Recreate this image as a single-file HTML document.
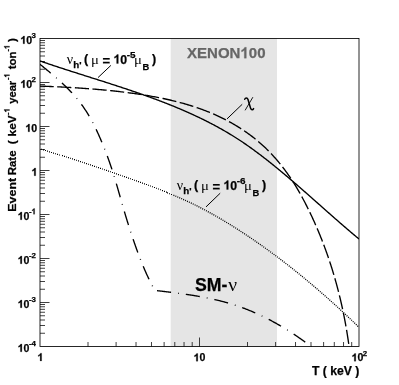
<!DOCTYPE html>
<html><head><meta charset="utf-8"><title>plot</title>
<style>html,body{margin:0;padding:0;background:#fff;}svg{display:block;filter:grayscale(1);}</style>
</head><body>
<svg width="399" height="385" viewBox="0 0 399 385">
<rect x="0" y="0" width="399" height="385" fill="#fff"/>
<rect x="170.7" y="38.5" width="106.3" height="308.0" fill="#e5e5e5"/>
<path d="M40.0,333.25h5 M40.0,325.51h5 M40.0,320.01h5 M40.0,315.75h5 M40.0,312.26h5 M40.0,309.32h5 M40.0,306.76h5 M40.0,304.51h5 M40.0,302.50h9.5 M40.0,289.25h5 M40.0,281.51h5 M40.0,276.01h5 M40.0,271.75h5 M40.0,268.26h5 M40.0,265.32h5 M40.0,262.76h5 M40.0,260.51h5 M40.0,258.50h9.5 M40.0,245.25h5 M40.0,237.51h5 M40.0,232.01h5 M40.0,227.75h5 M40.0,224.26h5 M40.0,221.32h5 M40.0,218.76h5 M40.0,216.51h5 M40.0,214.50h9.5 M40.0,201.25h5 M40.0,193.51h5 M40.0,188.01h5 M40.0,183.75h5 M40.0,180.26h5 M40.0,177.32h5 M40.0,174.76h5 M40.0,172.51h5 M40.0,170.50h9.5 M40.0,157.25h5 M40.0,149.51h5 M40.0,144.01h5 M40.0,139.75h5 M40.0,136.26h5 M40.0,133.32h5 M40.0,130.76h5 M40.0,128.51h5 M40.0,126.50h9.5 M40.0,113.25h5 M40.0,105.51h5 M40.0,100.01h5 M40.0,95.75h5 M40.0,92.26h5 M40.0,89.32h5 M40.0,86.76h5 M40.0,84.51h5 M40.0,82.50h9.5 M40.0,69.25h5 M40.0,61.51h5 M40.0,56.01h5 M40.0,51.75h5 M40.0,48.26h5 M40.0,45.32h5 M40.0,42.76h5 M40.0,40.51h5 M88.01,346.5v-4.5 M116.10,346.5v-4.5 M136.03,346.5v-4.5 M151.49,346.5v-4.5 M164.12,346.5v-4.5 M174.79,346.5v-4.5 M184.04,346.5v-4.5 M192.20,346.5v-4.5 M199.50,346.5v-9 M247.51,346.5v-4.5 M275.60,346.5v-4.5 M295.53,346.5v-4.5 M310.99,346.5v-4.5 M323.62,346.5v-4.5 M334.29,346.5v-4.5 M343.54,346.5v-4.5 M351.70,346.5v-4.5" stroke="#000" stroke-width="0.75" fill="none"/>
<rect x="40.0" y="38.5" width="319.0" height="308.0" fill="none" stroke="#000" stroke-width="0.85"/>
<clipPath id="c"><rect x="40.0" y="38.5" width="319.0" height="308.0"/></clipPath>
<g clip-path="url(#c)" fill="none" stroke="#000">
<path d="M39.56,60.80 L40.42,61.10 L41.30,61.40 L42.17,61.70 L43.04,62.00 L43.91,62.30 L44.78,62.59 L45.65,62.89 L46.53,63.19 L47.40,63.48 L48.28,63.78 L49.15,64.07 L50.03,64.37 L50.90,64.66 L51.78,64.95 L52.66,65.25 L53.53,65.54 L54.41,65.83 L55.29,66.12 L56.17,66.41 L57.05,66.70 L57.93,66.99 L58.81,67.28 L59.69,67.56 L60.57,67.85 L61.45,68.14 L62.33,68.43 L63.21,68.71 L64.09,69.00 L64.98,69.29 L65.86,69.57 L66.74,69.86 L67.63,70.14 L68.51,70.43 L69.39,70.71 L70.28,70.99 L71.16,71.28 L72.05,71.56 L72.93,71.85 L73.82,72.13 L74.71,72.41 L75.59,72.69 L76.48,72.98 L77.36,73.26 L78.25,73.54 L79.14,73.82 L80.03,74.11 L80.91,74.39 L81.80,74.67 L82.69,74.95 L83.58,75.23 L84.46,75.52 L85.35,75.80 L86.24,76.08 L87.13,76.36 L88.02,76.64 L88.91,76.92 L89.80,77.21 L90.68,77.49 L91.57,77.77 L92.46,78.05 L93.35,78.33 L94.24,78.62 L95.13,78.90 L96.02,79.18 L96.91,79.46 L97.80,79.75 L98.69,80.03 L99.58,80.31 L100.47,80.59 L101.36,80.88 L102.25,81.16 L103.14,81.45 L104.03,81.73 L104.92,82.01 L105.80,82.30 L106.69,82.58 L107.58,82.87 L108.47,83.16 L109.36,83.44 L110.25,83.73 L111.14,84.02 L112.03,84.30 L112.92,84.59 L113.81,84.88 L114.69,85.17 L115.58,85.46 L116.47,85.75 L117.36,86.04 L118.25,86.33 L119.13,86.62 L120.02,86.91 L120.91,87.20 L121.80,87.49 L122.68,87.79 L123.57,88.08 L124.46,88.38 L125.34,88.67 L126.23,88.97 L127.12,89.26 L128.00,89.56 L128.89,89.86 L129.77,90.15 L130.66,90.45 L131.54,90.75 L132.43,91.05 L133.31,91.35 L134.19,91.66 L135.08,91.96 L135.96,92.26 L136.84,92.57 L137.72,92.87 L138.61,93.18 L139.49,93.48 L140.37,93.79 L141.25,94.10 L142.13,94.41 L143.01,94.72 L143.89,95.03 L144.77,95.34 L145.65,95.65 L146.52,95.97 L147.40,96.28 L148.28,96.60 L149.16,96.92 L150.03,97.23 L150.91,97.55 L151.78,97.87 L152.66,98.19 L153.53,98.51 L154.41,98.84 L155.28,99.16 L156.15,99.49 L157.03,99.81 L157.90,100.14 L158.77,100.47 L159.64,100.80 L160.51,101.13 L161.38,101.46 L162.25,101.79 L163.12,102.13 L163.99,102.46 L164.85,102.80 L165.72,103.14 L166.59,103.48 L167.45,103.82 L168.32,104.16 L169.18,104.50 L170.04,104.85 L170.91,105.20 L171.77,105.54 L172.63,105.89 L173.49,106.24 L174.35,106.59 L175.21,106.95 L176.07,107.30 L176.93,107.66 L177.78,108.01 L178.64,108.37 L179.49,108.73 L180.35,109.09 L181.20,109.46 L182.06,109.82 L182.91,110.19 L183.76,110.56 L184.61,110.93 L185.46,111.30 L186.31,111.67 L187.16,112.04 L188.01,112.42 L188.85,112.80 L189.70,113.18 L190.54,113.56 L191.39,113.94 L192.23,114.32 L193.07,114.71 L193.91,115.10 L194.75,115.49 L195.59,115.88 L196.43,116.27 L197.27,116.66 L198.11,117.06 L198.94,117.46 L199.78,117.86 L200.61,118.26 L201.44,118.66 L202.27,119.07 L203.11,119.48 L203.94,119.89 L204.76,120.30 L205.59,120.71 L206.42,121.13 L207.24,121.54 L208.07,121.96 L208.89,122.38 L209.72,122.81 L210.54,123.23 L211.36,123.66 L212.18,124.09 L213.00,124.52 L213.81,124.95 L214.63,125.39 L215.44,125.83 L216.26,126.27 L217.07,126.71 L217.88,127.15 L218.69,127.60 L219.50,128.04 L220.31,128.49 L221.12,128.95 L221.92,129.40 L222.73,129.86 L223.53,130.32 L224.33,130.78 L225.13,131.24 L225.93,131.71 L226.73,132.18 L227.53,132.65 L228.32,133.12 L229.12,133.60 L229.91,134.07 L230.70,134.55 L231.49,135.03 L232.28,135.52 L233.07,136.01 L233.86,136.50 L234.64,136.99 L235.43,137.48 L236.21,137.98 L236.99,138.48 L237.77,138.98 L238.55,139.48 L239.33,139.99 L240.10,140.50 L240.88,141.01 L241.65,141.53 L242.42,142.04 L243.19,142.56 L243.96,143.08 L244.73,143.61 L245.49,144.13 L246.26,144.66 L247.02,145.19 L247.79,145.73 L248.55,146.26 L249.31,146.80 L250.07,147.34 L250.82,147.88 L251.58,148.42 L252.34,148.97 L253.09,149.51 L253.84,150.06 L254.60,150.61 L255.35,151.17 L256.10,151.72 L256.85,152.28 L257.59,152.84 L258.34,153.40 L259.09,153.96 L259.83,154.52 L260.57,155.08 L261.32,155.65 L262.06,156.22 L262.80,156.79 L263.54,157.36 L264.28,157.93 L265.02,158.50 L265.75,159.08 L266.49,159.65 L267.22,160.23 L267.96,160.81 L268.69,161.39 L269.42,161.97 L270.16,162.55 L270.89,163.14 L271.62,163.72 L272.35,164.31 L273.07,164.89 L273.80,165.48 L274.53,166.07 L275.25,166.66 L275.98,167.25 L276.70,167.84 L277.43,168.43 L278.15,169.03 L278.87,169.62 L279.60,170.22 L280.32,170.81 L281.04,171.41 L281.76,172.01 L282.48,172.61 L283.19,173.21 L283.91,173.81 L284.63,174.41 L285.35,175.01 L286.06,175.62 L286.78,176.22 L287.49,176.82 L288.21,177.43 L288.92,178.04 L289.63,178.64 L290.34,179.25 L291.06,179.86 L291.77,180.47 L292.48,181.07 L293.19,181.68 L293.90,182.29 L294.61,182.91 L295.32,183.52 L296.02,184.13 L296.73,184.74 L297.44,185.35 L298.14,185.97 L298.85,186.58 L299.56,187.19 L300.26,187.81 L300.97,188.42 L301.67,189.04 L302.38,189.66 L303.08,190.27 L303.78,190.89 L304.49,191.50 L305.19,192.12 L305.89,192.74 L306.59,193.36 L307.30,193.97 L308.00,194.59 L308.70,195.21 L309.40,195.83 L310.10,196.44 L310.80,197.06 L311.50,197.68 L312.20,198.30 L312.90,198.92 L313.60,199.54 L314.30,200.16 L315.00,200.77 L315.70,201.39 L316.39,202.01 L317.09,202.63 L317.79,203.25 L318.49,203.87 L319.19,204.49 L319.88,205.10 L320.58,205.72 L321.28,206.34 L321.97,206.96 L322.67,207.58 L323.37,208.19 L324.07,208.81 L324.76,209.43 L325.46,210.04 L326.16,210.66 L326.85,211.28 L327.55,211.89 L328.24,212.51 L328.94,213.12 L329.64,213.74 L330.33,214.35 L331.03,214.97 L331.73,215.58 L332.42,216.19 L333.12,216.81 L333.82,217.42 L334.51,218.03 L335.21,218.64 L335.91,219.25 L336.60,219.86 L337.30,220.47 L338.00,221.08 L338.69,221.69 L339.39,222.30 L340.09,222.90 L340.79,223.51 L341.48,224.12 L342.18,224.72 L342.88,225.32 L343.58,225.93 L344.28,226.53 L344.98,227.13 L345.67,227.73 L346.37,228.33 L347.07,228.93 L347.77,229.53 L348.47,230.13 L349.17,230.73 L349.87,231.32 L350.57,231.92 L351.27,232.51 L351.98,233.11 L352.68,233.70 L353.38,234.29 L354.08,234.88 L354.78,235.47 L355.49,236.06 L356.19,236.65 L356.89,237.23 L357.60,237.82 L358.30,238.40 L359.01,238.98" stroke-width="1.35"/>
<path d="M38.30,85.97 L39.45,86.02 L40.61,86.06 L41.76,86.11 L42.92,86.16 L44.07,86.21 L45.22,86.25 L46.38,86.30 L47.53,86.35 L48.69,86.40 L49.84,86.46 L50.99,86.51 L52.14,86.56 L53.30,86.61 L54.45,86.67 L55.60,86.72 L56.76,86.77 L57.91,86.83 L59.06,86.89 L60.21,86.94 L61.36,87.00 L62.52,87.06 L63.67,87.12 L64.82,87.18 L65.97,87.25 L67.12,87.31 L68.27,87.37 L69.42,87.44 L70.57,87.50 L71.72,87.57 L72.87,87.64 L74.02,87.71 L75.17,87.78 L76.32,87.85 L77.47,87.92 L78.62,88.00 L79.77,88.07 L80.92,88.15 L82.07,88.22 L83.22,88.30 L84.37,88.38 L85.52,88.46 L86.67,88.55 L87.81,88.63 L88.96,88.72 L90.11,88.81 L91.26,88.89 L92.40,88.98 L93.55,89.08 L94.70,89.17 L95.85,89.26 L96.99,89.36 L98.14,89.46 L99.29,89.56 L100.43,89.66 L101.58,89.76 L102.72,89.87 L103.87,89.97 L105.02,90.08 L106.16,90.19 L107.31,90.30 L108.45,90.42 L109.60,90.53 L110.74,90.65 L111.89,90.77 L113.03,90.89 L114.17,91.01 L115.32,91.14 L116.46,91.27 L117.61,91.40 L118.75,91.53 L119.89,91.66 L121.04,91.80 L122.18,91.93 L123.32,92.07 L124.47,92.21 L125.61,92.36 L126.75,92.50 L127.89,92.65 L129.03,92.80 L130.18,92.96 L131.32,93.11 L132.46,93.27 L133.60,93.43 L134.74,93.59 L135.88,93.76 L137.02,93.92 L138.16,94.09 L139.31,94.27 L140.45,94.44 L141.59,94.62 L142.73,94.80 L143.87,94.98 L145.00,95.17 L146.14,95.35 L147.28,95.54 L148.42,95.74 L149.56,95.93 L150.70,96.13 L151.84,96.33 L152.97,96.54 L154.11,96.75 L155.25,96.96 L156.38,97.17 L157.52,97.39 L158.65,97.61 L159.79,97.84 L160.92,98.07 L162.05,98.30 L163.18,98.53 L164.31,98.77 L165.45,99.01 L166.57,99.26 L167.70,99.51 L168.83,99.76 L169.96,100.02 L171.08,100.28 L172.21,100.55 L173.33,100.82 L174.46,101.09 L175.58,101.37 L176.70,101.66 L177.82,101.94 L178.94,102.23 L180.05,102.53 L181.17,102.83 L182.28,103.14 L183.40,103.45 L184.51,103.76 L185.62,104.08 L186.73,104.40 L187.83,104.73 L188.94,105.07 L190.04,105.41 L191.15,105.75 L192.25,106.10 L193.35,106.45 L194.45,106.81 L195.54,107.18 L196.64,107.55 L197.73,107.92 L198.82,108.31 L199.91,108.69 L201.00,109.08 L202.09,109.48 L203.17,109.89 L204.25,110.29 L205.33,110.71 L206.41,111.13 L207.48,111.56 L208.56,111.99 L209.63,112.43 L210.70,112.87 L211.76,113.32 L212.83,113.77 L213.89,114.23 L214.94,114.70 L216.00,115.17 L217.05,115.65 L218.10,116.13 L219.15,116.62 L220.19,117.12 L221.23,117.62 L222.27,118.13 L223.31,118.64 L224.34,119.16 L225.37,119.69 L226.39,120.22 L227.41,120.75 L228.43,121.30 L229.45,121.85 L230.46,122.40 L231.46,122.96 L232.47,123.53 L233.47,124.10 L234.46,124.68 L235.46,125.27 L236.44,125.86 L237.43,126.45 L238.41,127.06 L239.38,127.67 L240.36,128.28 L241.32,128.91 L242.29,129.53 L243.25,130.17 L244.20,130.81 L245.15,131.46 L246.10,132.11 L247.04,132.77 L247.97,133.43 L248.91,134.11 L249.83,134.78 L250.75,135.47 L251.67,136.16 L252.58,136.86 L253.49,137.56 L254.39,138.27 L255.29,138.99 L256.18,139.71 L257.06,140.44 L257.95,141.17 L258.82,141.92 L259.69,142.66 L260.55,143.42 L261.41,144.18 L262.27,144.95 L263.11,145.72 L263.95,146.50 L264.79,147.29 L265.62,148.08 L266.45,148.88 L267.27,149.68 L268.08,150.49 L268.89,151.31 L269.69,152.13 L270.49,152.96 L271.28,153.79 L272.07,154.63 L272.85,155.48 L273.62,156.33 L274.39,157.18 L275.16,158.04 L275.92,158.91 L276.67,159.78 L277.42,160.65 L278.16,161.54 L278.90,162.42 L279.63,163.31 L280.36,164.21 L281.08,165.11 L281.79,166.01 L282.50,166.92 L283.21,167.83 L283.91,168.75 L284.60,169.67 L285.29,170.60 L285.98,171.53 L286.65,172.46 L287.33,173.40 L288.00,174.34 L288.66,175.29 L289.31,176.24 L289.97,177.19 L290.61,178.15 L291.25,179.11 L291.89,180.08 L292.52,181.04 L293.15,182.02 L293.77,182.99 L294.38,183.97 L294.99,184.95 L295.60,185.93 L296.20,186.92 L296.79,187.91 L297.39,188.90 L297.97,189.90 L298.55,190.90 L299.13,191.90 L299.70,192.90 L300.27,193.91 L300.84,194.92 L301.40,195.93 L301.96,196.94 L302.51,197.96 L303.06,198.97 L303.60,199.99 L304.14,201.02 L304.68,202.04 L305.21,203.06 L305.74,204.09 L306.27,205.12 L306.79,206.15 L307.31,207.18 L307.83,208.22 L308.34,209.25 L308.85,210.29 L309.35,211.33 L309.86,212.37 L310.36,213.41 L310.85,214.45 L311.35,215.50 L311.84,216.54 L312.32,217.59 L312.81,218.64 L313.29,219.69 L313.77,220.74 L314.24,221.79 L314.71,222.84 L315.18,223.90 L315.64,224.95 L316.11,226.01 L316.57,227.07 L317.02,228.13 L317.47,229.19 L317.92,230.25 L318.37,231.31 L318.81,232.38 L319.25,233.44 L319.69,234.51 L320.13,235.58 L320.56,236.64 L320.99,237.71 L321.41,238.78 L321.84,239.85 L322.25,240.93 L322.67,242.00 L323.08,243.08 L323.50,244.15 L323.90,245.23 L324.31,246.31 L324.71,247.38 L325.11,248.46 L325.50,249.55 L325.90,250.63 L326.29,251.71 L326.67,252.79 L327.06,253.88 L327.44,254.96 L327.82,256.05 L328.19,257.14 L328.56,258.23 L328.93,259.32 L329.30,260.41 L329.66,261.50 L330.02,262.59 L330.38,263.69 L330.74,264.78 L331.09,265.88 L331.44,266.97 L331.78,268.07 L332.13,269.17 L332.47,270.27 L332.81,271.37 L333.14,272.47 L333.47,273.57 L333.80,274.67 L334.13,275.78 L334.45,276.88 L334.77,277.99 L335.09,279.09 L335.40,280.20 L335.71,281.31 L336.02,282.42 L336.33,283.53 L336.63,284.64 L336.93,285.75 L337.23,286.86 L337.53,287.97 L337.82,289.09 L338.11,290.20 L338.40,291.32 L338.68,292.43 L338.96,293.55 L339.24,294.67 L339.51,295.79 L339.79,296.90 L340.06,298.02 L340.33,299.15 L340.59,300.27 L340.85,301.39 L341.11,302.51 L341.37,303.64 L341.62,304.76 L341.87,305.89 L342.12,307.01 L342.36,308.14 L342.61,309.27 L342.85,310.39 L343.08,311.52 L343.32,312.65 L343.55,313.78 L343.78,314.91 L344.01,316.05 L344.23,317.18 L344.45,318.31 L344.67,319.44 L344.89,320.58 L345.10,321.71 L345.31,322.85 L345.52,323.99 L345.72,325.12 L345.92,326.26 L346.12,327.40 L346.32,328.54 L346.52,329.68 L346.71,330.82 L346.90,331.96 L347.08,333.10 L347.27,334.24 L347.45,335.38 L347.63,336.52 L347.80,337.67 L347.98,338.81 L348.15,339.96 L348.32,341.10 L348.48,342.25 L348.65,343.39 L348.81,344.54 L348.97,345.69 L349.12,346.83" stroke-width="1.35" stroke-dasharray="14.14 3.53" stroke-dashoffset="-1.3"/>
<path d="M41,148.71h1v1.15h-1z M43,149.34h1v1.15h-1z M45,149.97h1v1.15h-1z M47,150.61h1v1.15h-1z M49,151.24h1v1.15h-1z M51,151.88h1v1.15h-1z M53,152.52h1v1.15h-1z M55,153.17h1v1.15h-1z M57,153.81h1v1.15h-1z M59,154.46h1v1.15h-1z M62,155.11h1v1.15h-1z M64,155.76h1v1.15h-1z M66,156.41h1v1.15h-1z M68,157.06h1v1.15h-1z M70,157.72h1v1.15h-1z M72,158.37h1v1.15h-1z M74,159.03h1v1.15h-1z M76,159.70h1v1.15h-1z M78,160.36h1v1.15h-1z M80,161.02h1v1.15h-1z M82,161.69h1v1.15h-1z M84,162.36h1v1.15h-1z M86,163.03h1v1.15h-1z M88,163.70h1v1.15h-1z M90,164.37h1v1.15h-1z M92,165.05h1v1.15h-1z M94,165.73h1v1.15h-1z M96,166.41h1v1.15h-1z M98,167.09h1v1.15h-1z M100,167.77h1v1.15h-1z M102,168.45h1v1.15h-1z M104,169.14h1v1.15h-1z M106,169.83h1v1.15h-1z M108,170.52h1v1.15h-1z M110,171.21h1v1.15h-1z M112,171.90h1v1.15h-1z M114,172.60h1v1.15h-1z M116,173.29h1v1.15h-1z M118,173.99h1v1.15h-1z M120,174.69h1v1.15h-1z M122,175.39h1v1.15h-1z M124,176.10h1v1.15h-1z M126,176.80h1v1.15h-1z M128,177.51h1v1.15h-1z M130,178.22h1v1.15h-1z M132,178.93h1v1.15h-1z M134,179.64h1v1.15h-1z M136,180.35h1v1.15h-1z M138,181.07h1v1.15h-1z M140,181.79h1v1.15h-1z M142,182.51h1v1.15h-1z M144,183.24h1v1.15h-1z M146,183.97h1v1.15h-1z M148,184.71h1v1.15h-1z M150,185.45h1v1.15h-1z M152,186.19h1v1.15h-1z M154,186.94h1v1.15h-1z M156,187.70h1v1.15h-1z M158,188.46h1v1.15h-1z M160,189.22h1v1.15h-1z M162,190.00h1v1.15h-1z M164,190.78h1v1.15h-1z M166,191.56h1v1.15h-1z M167,192.36h1v1.15h-1z M169,193.16h1v1.15h-1z M171,193.97h1v1.15h-1z M173.67,194.57L174.59,194.96L174.08,196.16L173.16,195.77z M175.62,195.40L176.54,195.79L176.03,196.98L175.11,196.59z M177.57,196.23L178.49,196.63L177.98,197.82L177.06,197.42z M179.52,197.07L180.44,197.48L179.92,198.67L179.00,198.27z M181.47,197.93L182.38,198.33L181.85,199.52L180.94,199.12z M183.41,198.79L184.32,199.20L183.79,200.39L182.87,199.98z M185.34,199.66L186.25,200.08L185.71,201.26L184.80,200.85z M187.27,200.55L188.18,200.97L187.64,202.15L186.73,201.73z M189.20,201.44L190.11,201.86L189.55,203.04L188.65,202.62z M191.12,202.34L192.03,202.77L191.47,203.95L190.56,203.52z M193.04,203.26L193.94,203.69L193.37,204.86L192.47,204.43z M194.95,204.19L195.85,204.63L195.27,205.79L194.38,205.35z M196.86,205.12L197.75,205.57L197.17,206.73L196.28,206.29z M198.76,206.07L199.65,206.53L199.06,207.69L198.17,207.23z M200.65,207.04L201.54,207.50L200.94,208.65L200.05,208.19z M202.54,208.01L203.42,208.48L202.82,209.63L201.93,209.16z M204.42,209.00L205.30,209.47L204.69,210.62L203.81,210.15z M206.29,210.00L207.17,210.47L206.56,211.62L205.68,211.14z M208.16,211.01L209.04,211.49L208.41,212.63L207.54,212.15z M210.02,212.03L210.90,212.51L210.27,213.65L209.39,213.16z M211.88,213.06L212.75,213.55L212.12,214.68L211.24,214.19z M213.73,214.10L214.60,214.59L213.96,215.72L213.09,215.23z M215.58,215.15L216.44,215.64L215.80,216.77L214.93,216.27z M217.42,216.21L218.28,216.71L217.63,217.83L216.76,217.33z M219.25,217.27L220.11,217.78L219.46,218.90L218.59,218.39z M221.08,218.35L221.94,218.86L221.28,219.98L220.42,219.47z M222.91,219.43L223.76,219.95L223.10,221.06L222.24,220.55z M224.73,220.53L225.58,221.05L224.91,222.16L224.05,221.64z M226.54,221.63L227.39,222.15L226.72,223.26L225.86,222.74z M228.35,222.74L229.20,223.26L228.52,224.37L227.67,223.84z M230.16,223.85L231.01,224.38L230.32,225.48L229.47,224.95z M231.96,224.97L232.81,225.50L232.12,226.60L231.27,226.07z M233.76,226.10L234.60,226.63L233.91,227.73L233.06,227.20z M235.55,227.23L236.40,227.77L235.70,228.87L234.85,228.33z M237.34,228.37L238.18,228.91L237.48,230.01L236.64,229.47z M239.13,229.52L239.97,230.06L239.26,231.15L238.42,230.61z M240.91,230.67L241.75,231.22L241.04,232.31L240.20,231.76z M242.69,231.83L243.52,232.38L242.81,233.47L241.97,232.92z M244.46,233.00L245.30,233.55L244.58,234.63L243.74,234.08z M246.23,234.17L247.06,234.72L246.34,235.80L245.51,235.25z M248.00,235.34L248.83,235.90L248.10,236.98L247.27,236.42z M249.76,236.53L250.59,237.09L249.86,238.17L249.03,237.61z M251.52,237.72L252.34,238.28L251.61,239.35L250.79,238.79z M253.27,238.91L254.10,239.48L253.36,240.55L252.54,239.98z M255.02,240.11L255.84,240.68L255.10,241.75L254.28,241.18z M256.77,241.32L257.59,241.89L256.85,242.96L256.02,242.39z M258.51,242.53L259.33,243.10L258.58,244.17L257.76,243.60z M260.25,243.75L261.06,244.32L260.31,245.39L259.50,244.81z M261.98,244.97L262.80,245.55L262.04,246.61L261.23,246.03z M263.71,246.20L264.52,246.78L263.77,247.84L262.96,247.26z M265.44,247.43L266.25,248.02L265.49,249.07L264.68,248.49z M267.16,248.67L267.97,249.26L267.21,250.31L266.40,249.73z M268.88,249.92L269.69,250.51L268.92,251.56L268.11,250.97z M270.59,251.17L271.40,251.76L270.63,252.81L269.82,252.22z M272.30,252.42L273.11,253.02L272.34,254.06L271.53,253.47z M274.01,253.68L274.81,254.28L274.04,255.32L273.24,254.73z M275.71,254.95L276.52,255.55L275.74,256.59L274.94,255.99z M277.41,256.22L278.21,256.82L277.43,257.86L276.63,257.26z M279.11,257.49L279.91,258.10L279.12,259.13L278.33,258.53z M280.80,258.77L281.60,259.38L280.81,260.41L280.01,259.81z M282.49,260.06L283.28,260.67L282.49,261.70L281.70,261.09z M284.17,261.35L284.97,261.96L284.17,262.99L283.38,262.38z M285.86,262.65L286.65,263.26L285.85,264.29L285.06,263.67z M287.53,263.95L288.32,264.56L287.52,265.59L286.73,264.97z M289.21,265.25L289.99,265.87L289.19,266.89L288.40,266.27z M290.87,266.56L291.66,267.18L290.86,268.20L290.07,267.58z M292.54,267.87L293.32,268.50L292.52,269.51L291.73,268.89z M294.20,269.19L294.98,269.82L294.17,270.83L293.39,270.21z M295.86,270.52L296.64,271.14L295.83,272.16L295.05,271.53z M297.52,271.85L298.29,272.47L297.48,273.48L296.70,272.86z M299.17,273.18L299.94,273.81L299.12,274.82L298.35,274.19z M300.81,274.51L301.59,275.15L300.77,276.15L299.99,275.52z M302.46,275.86L303.23,276.49L302.41,277.50L301.63,276.86z M304.10,277.20L304.87,277.84L304.04,278.84L303.27,278.21z M305.74,278.55L306.50,279.19L305.68,280.19L304.91,279.55z M307.37,279.91L308.14,280.55L307.30,281.55L306.54,280.91z M309.00,281.27L309.76,281.91L308.93,282.90L308.16,282.26z M310.62,282.63L311.39,283.27L310.55,284.27L309.79,283.62z M312.25,284.00L313.01,284.64L312.17,285.63L311.41,284.99z M313.86,285.37L314.63,286.02L313.78,287.01L313.02,286.36z M315.48,286.74L316.24,287.39L315.39,288.38L314.64,287.73z M317.09,288.12L317.85,288.77L317.00,289.76L316.24,289.11z M318.70,289.51L319.46,290.16L318.61,291.14L317.85,290.49z M320.31,290.89L321.06,291.55L320.21,292.53L319.45,291.88z M321.91,292.29L322.66,292.94L321.81,293.92L321.05,293.26z M323.50,293.68L324.26,294.34L323.40,295.32L322.65,294.66z M325.10,295.08L325.85,295.74L324.99,296.72L324.24,296.06z M326.69,296.48L327.44,297.15L326.58,298.12L325.83,297.46z M328.28,297.89L329.03,298.55L328.16,299.53L327.42,298.86z M329.86,299.30L330.61,299.97L329.74,300.94L329.00,300.27z M331.45,300.71L332.19,301.38L331.32,302.35L330.58,301.68z M333.02,302.13L333.77,302.80L332.90,303.77L332.15,303.10z M334.60,303.55L335.34,304.22L334.47,305.19L333.73,304.52z M336.17,304.98L336.91,305.65L336.03,306.61L335.29,305.94z M337.74,306.41L338.48,307.08L337.60,308.04L336.86,307.37z M339.30,307.84L340.04,308.52L339.16,309.47L338.42,308.80z M340.87,309.27L341.60,309.95L340.72,310.91L339.98,310.23z M342.42,310.71L343.16,311.39L342.27,312.35L341.54,311.67z M343.98,312.16L344.71,312.84L343.83,313.79L343.09,313.11z M345.53,313.60L346.26,314.28L345.38,315.23L344.65,314.55z M347.08,315.05L347.81,315.73L346.92,316.68L346.19,316.00z M348.63,316.50L349.36,317.19L348.47,318.13L347.74,317.45z M350.17,317.96L350.90,318.64L350.01,319.59L349.28,318.90z M351.71,319.42L352.44,320.10L351.54,321.05L350.82,320.36z M353.25,320.88L353.97,321.57L353.08,322.51L352.35,321.82z M354.79,322.34L355.51,323.03L354.61,323.97L353.89,323.28z M356.32,323.81L357.04,324.50L356.14,325.44L355.42,324.75z M357.85,325.28L358.57,325.97L357.66,326.91L356.94,326.21z" fill="#000" stroke="none"/>
<path d="M38.43,63.09 L39.11,63.63 L39.78,64.17 L40.46,64.71 L41.13,65.25 L41.81,65.79 L42.48,66.34 L43.16,66.88 L43.83,67.43 L44.51,67.98 L45.18,68.53 L45.86,69.08 L46.53,69.63 L47.20,70.18 L47.88,70.73 L48.55,71.29 L49.22,71.84 L49.89,72.40 L50.56,72.96 L51.23,73.52 L51.90,74.08 L52.56,74.65 L53.23,75.22 L53.89,75.78 L54.55,76.35 L55.21,76.92 L55.87,77.50 L56.53,78.07 L57.19,78.65 L57.84,79.23 L58.49,79.81 L59.14,80.39 L59.79,80.98 L60.44,81.57 L61.08,82.16 L61.72,82.75 L62.36,83.34 L63.00,83.94 L63.63,84.54 L64.27,85.14 L64.89,85.74 L65.52,86.35 L66.14,86.96 L66.76,87.57 L67.38,88.19 L68.00,88.80 L68.61,89.42 L69.21,90.05 L69.82,90.67 L70.42,91.30 L71.02,91.93 L71.61,92.57 L72.20,93.20 L72.79,93.85 L73.37,94.49 L73.95,95.14 L74.52,95.79 L75.09,96.44 L75.66,97.10 L76.22,97.76 L76.78,98.42 L77.33,99.09 L77.88,99.76 L78.43,100.43 L78.96,101.11 L79.50,101.79 L80.03,102.48 L80.55,103.16 L81.07,103.86 L81.59,104.55 L82.10,105.25 L82.60,105.96 L83.10,106.66 L83.60,107.37 L84.09,108.09 L84.57,108.81 L85.05,109.53 L85.53,110.25 L86.00,110.98 L86.47,111.71 L86.93,112.45 L87.39,113.18 L87.84,113.92 L88.29,114.67 L88.73,115.41 L89.17,116.16 L89.61,116.92 L90.04,117.67 L90.47,118.43 L90.89,119.19 L91.31,119.95 L91.73,120.71 L92.14,121.48 L92.55,122.25 L92.96,123.02 L93.36,123.80 L93.76,124.57 L94.15,125.35 L94.54,126.13 L94.93,126.91 L95.32,127.69 L95.70,128.48 L96.08,129.27 L96.45,130.06 L96.83,130.84 L97.20,131.64 L97.56,132.43 L97.93,133.22 L98.29,134.02 L98.65,134.82 L99.00,135.61 L99.36,136.41 L99.71,137.21 L100.06,138.01 L100.40,138.81 L100.75,139.62 L101.09,140.42 L101.43,141.22 L101.77,142.03 L102.10,142.83 L102.44,143.64 L102.77,144.44 L103.10,145.25 L103.43,146.06 L103.75,146.87 L104.08,147.67 L104.40,148.48 L104.72,149.29 L105.03,150.10 L105.35,150.91 L105.66,151.72 L105.97,152.54 L106.28,153.35 L106.59,154.16 L106.90,154.98 L107.20,155.79 L107.50,156.60 L107.80,157.42 L108.10,158.24 L108.39,159.05 L108.68,159.87 L108.98,160.69 L109.27,161.51 L109.55,162.33 L109.84,163.15 L110.12,163.97 L110.40,164.79 L110.68,165.61 L110.96,166.43 L111.23,167.25 L111.51,168.08 L111.78,168.90 L112.05,169.73 L112.32,170.55 L112.58,171.38 L112.85,172.21 L113.11,173.04 L113.37,173.86 L113.63,174.69 L113.89,175.52 L114.14,176.35 L114.40,177.18 L114.65,178.01 L114.90,178.84 L115.16,179.68 L115.41,180.51 L115.65,181.34 L115.90,182.17 L116.15,183.01 L116.39,183.84 L116.64,184.67 L116.88,185.51 L117.13,186.34 L117.37,187.18 L117.61,188.01 L117.85,188.85 L118.09,189.68 L118.33,190.52 L118.57,191.35 L118.81,192.19 L119.05,193.03 L119.29,193.86 L119.53,194.70 L119.77,195.54 L120.00,196.37 L120.24,197.21 L120.48,198.05 L120.72,198.88 L120.96,199.72 L121.20,200.56 L121.43,201.39 L121.67,202.23 L121.91,203.07 L122.15,203.90 L122.39,204.74 L122.63,205.58 L122.88,206.41 L123.12,207.25 L123.36,208.09 L123.60,208.92 L123.85,209.76 L124.09,210.59 L124.34,211.43 L124.59,212.26 L124.83,213.10 L125.08,213.93 L125.33,214.76 L125.58,215.60 L125.84,216.43 L126.09,217.26 L126.34,218.10 L126.60,218.93 L126.85,219.76 L127.11,220.59 L127.37,221.43 L127.63,222.26 L127.89,223.09 L128.15,223.92 L128.41,224.75 L128.67,225.58 L128.93,226.41 L129.20,227.24 L129.46,228.07 L129.73,228.90 L130.00,229.73 L130.27,230.55 L130.53,231.38 L130.80,232.21 L131.08,233.04 L131.35,233.86 L131.62,234.69 L131.89,235.52 L132.17,236.34 L132.45,237.17 L132.72,237.99 L133.00,238.82 L133.28,239.64 L133.56,240.46 L133.84,241.29 L134.12,242.11 L134.40,242.93 L134.69,243.75 L134.97,244.57 L135.26,245.39 L135.55,246.21 L135.84,247.03 L136.13,247.85 L136.42,248.67 L136.72,249.49 L137.01,250.31 L137.31,251.12 L137.61,251.94 L137.91,252.75 L138.21,253.57 L138.51,254.38 L138.82,255.20 L139.12,256.01 L139.43,256.82 L139.74,257.63 L140.06,258.44 L140.37,259.25 L140.69,260.06 L141.01,260.87 L141.33,261.67 L141.65,262.48 L141.97,263.28 L142.30,264.09 L142.63,264.89 L142.96,265.69 L143.30,266.50 L143.63,267.30 L143.97,268.10 L144.31,268.89 L144.66,269.69 L145.00,270.49 L145.35,271.28 L145.70,272.08 L146.06,272.87 L146.41,273.66 L146.77,274.45 L147.13,275.24 L147.50,276.03 L147.87,276.82 L148.24,277.61 L148.61,278.39 L148.99,279.18 L149.37,279.96 L149.75,280.74 L150.13,281.52 L150.52,282.30 L150.91,283.08 L151.31,283.85 L151.71,284.63 L152.11,285.40 L152.51,286.17 L152.92,286.95 L153.33,287.72 L153.74,288.48 L154.16,289.25 L154.40,290.10 L154.94,290.41 L155.50,290.48 L156.06,290.54 L156.62,290.61 L157.19,290.67 L157.75,290.74 L158.31,290.81 L158.87,290.87 L159.44,290.94 L160.00,291.00 L160.56,291.07 L161.13,291.13 L161.69,291.20 L162.25,291.27 L162.82,291.33 L163.38,291.40 L163.94,291.47 L164.51,291.53 L165.07,291.60 L165.63,291.67 L166.20,291.73 L166.76,291.80 L167.33,291.87 L167.89,291.94 L168.46,292.01 L169.02,292.08 L169.59,292.15 L170.15,292.22 L170.71,292.29 L171.28,292.36 L171.84,292.43 L172.41,292.50 L172.97,292.57 L173.54,292.64 L174.10,292.71 L174.67,292.78 L175.23,292.86 L175.80,292.93 L176.36,293.00 L176.93,293.08 L177.49,293.15 L178.06,293.23 L178.63,293.30 L179.19,293.38 L179.76,293.45 L180.32,293.53 L180.89,293.61 L181.45,293.69 L182.02,293.76 L182.58,293.84 L183.15,293.92 L183.71,294.00 L184.27,294.08 L184.84,294.16 L185.40,294.24 L185.97,294.33 L186.53,294.41 L187.10,294.49 L187.66,294.58 L188.23,294.66 L188.79,294.75 L189.35,294.83 L189.92,294.92 L190.48,295.01 L191.05,295.09 L191.61,295.18 L192.17,295.27 L192.74,295.36 L193.30,295.45 L193.86,295.54 L194.43,295.64 L194.99,295.73 L195.55,295.82 L196.11,295.92 L196.68,296.01 L197.24,296.11 L197.80,296.21 L198.36,296.30 L198.92,296.40 L199.49,296.50 L200.05,296.60 L200.61,296.70 L201.17,296.80 L201.73,296.91 L202.29,297.01 L202.85,297.12 L203.41,297.22 L203.97,297.33 L204.53,297.43 L205.09,297.54 L205.65,297.65 L206.21,297.76 L206.77,297.87 L207.32,297.99 L207.88,298.10 L208.44,298.21 L209.00,298.33 L209.55,298.44 L210.11,298.56 L210.67,298.68 L211.22,298.80 L211.78,298.92 L212.34,299.04 L212.89,299.16 L213.45,299.29 L214.00,299.41 L214.56,299.54 L215.11,299.66 L215.66,299.79 L216.22,299.92 L216.77,300.05 L217.32,300.18 L217.88,300.31 L218.43,300.45 L218.98,300.58 L219.53,300.72 L220.08,300.86 L220.63,301.00 L221.19,301.14 L221.74,301.28 L222.28,301.42 L222.83,301.56 L223.38,301.71 L223.93,301.85 L224.48,302.00 L225.03,302.15 L225.57,302.30 L226.12,302.45 L226.67,302.60 L227.21,302.76 L227.76,302.91 L228.30,303.07 L228.85,303.23 L229.39,303.39 L229.94,303.55 L230.48,303.71 L231.02,303.88 L231.57,304.04 L232.11,304.21 L232.65,304.38 L233.19,304.55 L233.73,304.72 L234.27,304.89 L234.81,305.06 L235.35,305.24 L235.89,305.42 L236.42,305.59 L236.96,305.77 L237.50,305.96 L238.04,306.14 L238.57,306.32 L239.11,306.51 L239.64,306.70 L240.18,306.89 L240.71,307.08 L241.24,307.27 L241.78,307.46 L242.31,307.66 L242.84,307.85 L243.37,308.05 L243.90,308.25 L244.43,308.45 L244.96,308.65 L245.49,308.86 L246.02,309.06 L246.55,309.27 L247.08,309.47 L247.60,309.68 L248.13,309.89 L248.65,310.11 L249.18,310.32 L249.71,310.53 L250.23,310.75 L250.75,310.97 L251.28,311.18 L251.80,311.40 L252.32,311.63 L252.84,311.85 L253.37,312.07 L253.89,312.30 L254.41,312.52 L254.93,312.75 L255.45,312.98 L255.96,313.21 L256.48,313.44 L257.00,313.68 L257.52,313.91 L258.03,314.15 L258.55,314.38 L259.06,314.62 L259.58,314.86 L260.09,315.10 L260.61,315.35 L261.12,315.59 L261.63,315.83 L262.15,316.08 L262.66,316.33 L263.17,316.58 L263.68,316.82 L264.19,317.08 L264.70,317.33 L265.21,317.58 L265.72,317.84 L266.22,318.09 L266.73,318.35 L267.24,318.61 L267.74,318.87 L268.25,319.13 L268.75,319.39 L269.26,319.65 L269.76,319.91 L270.27,320.18 L270.77,320.45 L271.27,320.71 L271.77,320.98 L272.27,321.25 L272.77,321.52 L273.27,321.79 L273.77,322.07 L274.27,322.34 L274.77,322.62 L275.27,322.89 L275.77,323.17 L276.26,323.45 L276.76,323.73 L277.26,324.01 L277.75,324.29 L278.24,324.57 L278.74,324.86 L279.23,325.14 L279.72,325.43 L280.22,325.72 L280.71,326.00 L281.20,326.29 L281.69,326.58 L282.18,326.87 L282.67,327.17 L283.16,327.46 L283.65,327.75 L284.13,328.05 L284.62,328.35 L285.11,328.64 L285.59,328.94 L286.08,329.24 L286.56,329.54 L287.05,329.84 L287.53,330.14 L288.01,330.45 L288.50,330.75 L288.98,331.06 L289.46,331.36 L289.94,331.67 L290.42,331.98 L290.90,332.29 L291.38,332.60 L291.86,332.91 L292.33,333.22 L292.81,333.53 L293.29,333.85 L293.76,334.16 L294.24,334.47 L294.71,334.79 L295.19,335.11 L295.66,335.43 L296.14,335.74 L296.61,336.06 L297.08,336.38 L297.55,336.71 L298.02,337.03 L298.49,337.35 L298.96,337.68 L299.43,338.00 L299.90,338.33 L300.37,338.65 L300.83,338.98 L301.30,339.31 L301.77,339.64 L302.23,339.97 L302.70,340.30 L303.16,340.63 L303.62,340.96 L304.09,341.29 L304.55,341.63 L305.01,341.96 L305.47,342.29 L305.93,342.63 L306.39,342.97 L306.85,343.30 L307.31,343.64 L307.77,343.98 L308.23,344.32 L308.68,344.66 L309.14,345.00 L309.60,345.34 L310.05,345.69 L310.50,346.03 L310.96,346.37 L311.41,346.72 L311.86,347.06" stroke-width="1.35" stroke-dasharray="14.14 7.07 0.8 7.0" stroke-dashoffset="-1.74"/>
</g>
<path d="M98.0,77.6 L110.9,65.4 M206.0,206.9 L220.2,193.2 M227,118.9 L242.2,104.3" stroke="#000" stroke-width="1" fill="none"/>
<g style="opacity:0.999">
<text x="28.88" y="346.25" text-anchor="start" style="font-family:'Liberation Sans',sans-serif;font-weight:bold;font-size:7.9px" stroke="#000" stroke-width="0.25">-4</text>
<path transform="translate(17.71,351.75) scale(0.01060)" d="M393,0H254V-524C203,-476 143,-441 74,-418V-544C110,-556 150,-578 193,-612C236,-646 265,-685 281,-730H393Z" stroke="#000" stroke-width="23.6"/><text x="23.61" y="351.75" text-anchor="start" style="font-family:'Liberation Sans',sans-serif;font-weight:bold;font-size:10.6px" stroke="#000" stroke-width="0.25">0</text>
<text x="28.88" y="302.25" text-anchor="start" style="font-family:'Liberation Sans',sans-serif;font-weight:bold;font-size:7.9px" stroke="#000" stroke-width="0.25">-3</text>
<path transform="translate(17.71,307.75) scale(0.01060)" d="M393,0H254V-524C203,-476 143,-441 74,-418V-544C110,-556 150,-578 193,-612C236,-646 265,-685 281,-730H393Z" stroke="#000" stroke-width="23.6"/><text x="23.61" y="307.75" text-anchor="start" style="font-family:'Liberation Sans',sans-serif;font-weight:bold;font-size:10.6px" stroke="#000" stroke-width="0.25">0</text>
<text x="28.88" y="258.25" text-anchor="start" style="font-family:'Liberation Sans',sans-serif;font-weight:bold;font-size:7.9px" stroke="#000" stroke-width="0.25">-2</text>
<path transform="translate(17.71,263.75) scale(0.01060)" d="M393,0H254V-524C203,-476 143,-441 74,-418V-544C110,-556 150,-578 193,-612C236,-646 265,-685 281,-730H393Z" stroke="#000" stroke-width="23.6"/><text x="23.61" y="263.75" text-anchor="start" style="font-family:'Liberation Sans',sans-serif;font-weight:bold;font-size:10.6px" stroke="#000" stroke-width="0.25">0</text>
<text x="28.88" y="214.25" text-anchor="start" style="font-family:'Liberation Sans',sans-serif;font-weight:bold;font-size:7.9px" stroke="#000" stroke-width="0.25">-</text><path transform="translate(31.51,214.25) scale(0.00790)" d="M393,0H254V-524C203,-476 143,-441 74,-418V-544C110,-556 150,-578 193,-612C236,-646 265,-685 281,-730H393Z" stroke="#000" stroke-width="31.6"/>
<path transform="translate(17.71,219.75) scale(0.01060)" d="M393,0H254V-524C203,-476 143,-441 74,-418V-544C110,-556 150,-578 193,-612C236,-646 265,-685 281,-730H393Z" stroke="#000" stroke-width="23.6"/><text x="23.61" y="219.75" text-anchor="start" style="font-family:'Liberation Sans',sans-serif;font-weight:bold;font-size:10.6px" stroke="#000" stroke-width="0.25">0</text>
<path transform="translate(31.51,175.75) scale(0.01060)" d="M393,0H254V-524C203,-476 143,-441 74,-418V-544C110,-556 150,-578 193,-612C236,-646 265,-685 281,-730H393Z" stroke="#000" stroke-width="23.6"/>
<path transform="translate(25.41,131.75) scale(0.01060)" d="M393,0H254V-524C203,-476 143,-441 74,-418V-544C110,-556 150,-578 193,-612C236,-646 265,-685 281,-730H393Z" stroke="#000" stroke-width="23.6"/><text x="31.31" y="131.75" text-anchor="start" style="font-family:'Liberation Sans',sans-serif;font-weight:bold;font-size:10.6px" stroke="#000" stroke-width="0.25">0</text>
<text x="31.51" y="82.25" text-anchor="start" style="font-family:'Liberation Sans',sans-serif;font-weight:bold;font-size:7.9px" stroke="#000" stroke-width="0.25">2</text>
<path transform="translate(20.41,87.75) scale(0.01060)" d="M393,0H254V-524C203,-476 143,-441 74,-418V-544C110,-556 150,-578 193,-612C236,-646 265,-685 281,-730H393Z" stroke="#000" stroke-width="23.6"/><text x="26.31" y="87.75" text-anchor="start" style="font-family:'Liberation Sans',sans-serif;font-weight:bold;font-size:10.6px" stroke="#000" stroke-width="0.25">0</text>
<text x="31.51" y="38.25" text-anchor="start" style="font-family:'Liberation Sans',sans-serif;font-weight:bold;font-size:7.9px" stroke="#000" stroke-width="0.25">3</text>
<path transform="translate(20.41,43.75) scale(0.01060)" d="M393,0H254V-524C203,-476 143,-441 74,-418V-544C110,-556 150,-578 193,-612C236,-646 265,-685 281,-730H393Z" stroke="#000" stroke-width="23.6"/><text x="26.31" y="43.75" text-anchor="start" style="font-family:'Liberation Sans',sans-serif;font-weight:bold;font-size:10.6px" stroke="#000" stroke-width="0.25">0</text>
<path transform="translate(37.45,360.90) scale(0.01060)" d="M393,0H254V-524C203,-476 143,-441 74,-418V-544C110,-556 150,-578 193,-612C236,-646 265,-685 281,-730H393Z" stroke="#000" stroke-width="23.6"/>
<path transform="translate(193.61,361.20) scale(0.01060)" d="M393,0H254V-524C203,-476 143,-441 74,-418V-544C110,-556 150,-578 193,-612C236,-646 265,-685 281,-730H393Z" stroke="#000" stroke-width="23.6"/><text x="199.50" y="361.20" text-anchor="start" style="font-family:'Liberation Sans',sans-serif;font-weight:bold;font-size:10.6px" stroke="#000" stroke-width="0.25">0</text>
<path transform="translate(351.60,361.20) scale(0.01060)" d="M393,0H254V-524C203,-476 143,-441 74,-418V-544C110,-556 150,-578 193,-612C236,-646 265,-685 281,-730H393Z" stroke="#000" stroke-width="23.6"/><text x="357.49" y="361.20" text-anchor="start" style="font-family:'Liberation Sans',sans-serif;font-weight:bold;font-size:10.6px" stroke="#000" stroke-width="0.25">0</text>
<text x="362.70" y="355.80" text-anchor="start" style="font-family:'Liberation Sans',sans-serif;font-weight:bold;font-size:7.9px" stroke="#000" stroke-width="0.25">2</text>
<text x="359.30" y="374.50" text-anchor="end" style="font-family:'Liberation Sans',sans-serif;font-weight:bold;font-size:12.2px" stroke="#000" stroke-width="0.25">T ( keV )</text>
<text transform="translate(16.20,211.66) rotate(-90)" style="font-family:'Liberation Sans',sans-serif;font-weight:bold;font-size:11.8px" stroke="#000" stroke-width="0.25" textLength="33.80" lengthAdjust="spacingAndGlyphs">Event</text>
<text transform="translate(16.20,175.26) rotate(-90)" style="font-family:'Liberation Sans',sans-serif;font-weight:bold;font-size:11.8px" stroke="#000" stroke-width="0.25" textLength="24.82" lengthAdjust="spacingAndGlyphs">Rate</text>
<text transform="translate(16.20,144.31) rotate(-90)" style="font-family:'Liberation Sans',sans-serif;font-weight:bold;font-size:11.8px" stroke="#000" stroke-width="0.25">(</text>
<text transform="translate(16.20,136.49) rotate(-90)" style="font-family:'Liberation Sans',sans-serif;font-weight:bold;font-size:11.8px" stroke="#000" stroke-width="0.25" textLength="21.19" lengthAdjust="spacingAndGlyphs">keV</text>
<g transform="translate(9.50,114.90) rotate(-90)"><text x="0.00" y="0.00" text-anchor="start" style="font-family:'Liberation Sans',sans-serif;font-weight:bold;font-size:7.4px" stroke="#000" stroke-width="0.25">-</text><path transform="translate(2.46,0.00) scale(0.00740)" d="M393,0H254V-524C203,-476 143,-441 74,-418V-544C110,-556 150,-578 193,-612C236,-646 265,-685 281,-730H393Z" stroke="#000" stroke-width="33.8"/></g>
<text transform="translate(16.20,103.65) rotate(-90)" style="font-family:'Liberation Sans',sans-serif;font-weight:bold;font-size:11.8px" stroke="#000" stroke-width="0.25" textLength="22.85" lengthAdjust="spacingAndGlyphs">year</text>
<g transform="translate(9.50,80.10) rotate(-90)"><text x="0.00" y="0.00" text-anchor="start" style="font-family:'Liberation Sans',sans-serif;font-weight:bold;font-size:7.4px" stroke="#000" stroke-width="0.25">-</text><path transform="translate(2.46,0.00) scale(0.00740)" d="M393,0H254V-524C203,-476 143,-441 74,-418V-544C110,-556 150,-578 193,-612C236,-646 265,-685 281,-730H393Z" stroke="#000" stroke-width="33.8"/></g>
<text transform="translate(16.20,69.34) rotate(-90)" style="font-family:'Liberation Sans',sans-serif;font-weight:bold;font-size:11.8px" stroke="#000" stroke-width="0.25" textLength="17.74" lengthAdjust="spacingAndGlyphs">ton</text>
<g transform="translate(9.50,51.50) rotate(-90)"><text x="0.00" y="0.00" text-anchor="start" style="font-family:'Liberation Sans',sans-serif;font-weight:bold;font-size:7.4px" stroke="#000" stroke-width="0.25">-</text><path transform="translate(2.46,0.00) scale(0.00740)" d="M393,0H254V-524C203,-476 143,-441 74,-418V-544C110,-556 150,-578 193,-612C236,-646 265,-685 281,-730H393Z" stroke="#000" stroke-width="33.8"/></g>
<text transform="translate(16.20,42.05) rotate(-90)" style="font-family:'Liberation Sans',sans-serif;font-weight:bold;font-size:11.8px" stroke="#000" stroke-width="0.25">)</text>
<text x="187.12" y="58.20" text-anchor="start" style="font-family:'Liberation Sans',sans-serif;font-weight:bold;font-size:15.0px" fill="#666" stroke="#666" stroke-width="0.25">XENON</text>
<path transform="translate(240.46,58.20) scale(0.01500)" d="M393,0H254V-524C203,-476 143,-441 74,-418V-544C110,-556 150,-578 193,-612C236,-646 265,-685 281,-730H393Z" fill="#666" stroke="#666" stroke-width="16.7"/><text x="248.80" y="58.20" text-anchor="start" style="font-family:'Liberation Sans',sans-serif;font-weight:bold;font-size:15.0px" fill="#666" stroke="#666" stroke-width="0.25">00</text>
<text x="195.00" y="290.70" text-anchor="start" style="font-family:'Liberation Sans',sans-serif;font-weight:bold;font-size:17.7px" stroke="#000" stroke-width="0.25">SM-</text>
<text x="228.30" y="290.80" text-anchor="start" style="font-family:'Liberation Serif',serif;font-weight:normal;font-size:19.5px">ν</text>
<g fill="none" stroke="#000" stroke-linecap="round"><path d="M244.7,99.3 C245.4,97.6 247.3,97.5 248.0,99.6 L250.5,108.0 C251.1,110.1 252.8,110.2 253.6,108.6" stroke-width="1.5"/><path d="M252.7,97.5 L245.3,110.0" stroke-width="0.9"/></g>
<text x="66.80" y="64.10" text-anchor="start" style="font-family:'Liberation Serif',serif;font-weight:normal;font-size:14.0px">ν</text>
<text x="73.20" y="68.20" text-anchor="start" style="font-family:'Liberation Sans',sans-serif;font-weight:bold;font-size:9.8px" stroke="#000" stroke-width="0.25">h'</text>
<text x="83.90" y="63.00" text-anchor="start" style="font-family:'Liberation Sans',sans-serif;font-weight:bold;font-size:12.5px" stroke="#000" stroke-width="0.25">(</text>
<text transform="translate(90.90,63.60) scale(1.22,1)" style="font-family:'Liberation Serif',serif;font-weight:normal;font-size:12.1px">μ</text>
<text x="102.40" y="64.90" text-anchor="start" style="font-family:'Liberation Sans',sans-serif;font-weight:bold;font-size:13px" stroke="#000" stroke-width="0.25">=</text>
<path transform="translate(113.50,63.50) scale(0.01230)" d="M393,0H254V-524C203,-476 143,-441 74,-418V-544C110,-556 150,-578 193,-612C236,-646 265,-685 281,-730H393Z" stroke="#000" stroke-width="20.3"/><text x="120.34" y="63.50" text-anchor="start" style="font-family:'Liberation Sans',sans-serif;font-weight:bold;font-size:12.3px" stroke="#000" stroke-width="0.25">0</text>
<text x="126.80" y="57.50" text-anchor="start" style="font-family:'Liberation Sans',sans-serif;font-weight:bold;font-size:9.9px" stroke="#000" stroke-width="0.25">-5</text>
<text transform="translate(134.10,63.60) scale(1.22,1)" style="font-family:'Liberation Serif',serif;font-weight:normal;font-size:12.1px">μ</text>
<text x="142.40" y="69.60" text-anchor="start" style="font-family:'Liberation Sans',sans-serif;font-weight:bold;font-size:9.4px" stroke="#000" stroke-width="0.25">B</text>
<text x="152.00" y="63.00" text-anchor="start" style="font-family:'Liberation Sans',sans-serif;font-weight:bold;font-size:12.5px" stroke="#000" stroke-width="0.25">)</text>
<text x="176.80" y="190.10" text-anchor="start" style="font-family:'Liberation Serif',serif;font-weight:normal;font-size:14.0px">ν</text>
<text x="183.20" y="194.20" text-anchor="start" style="font-family:'Liberation Sans',sans-serif;font-weight:bold;font-size:9.8px" stroke="#000" stroke-width="0.25">h'</text>
<text x="193.90" y="189.00" text-anchor="start" style="font-family:'Liberation Sans',sans-serif;font-weight:bold;font-size:12.5px" stroke="#000" stroke-width="0.25">(</text>
<text transform="translate(200.90,189.60) scale(1.22,1)" style="font-family:'Liberation Serif',serif;font-weight:normal;font-size:12.1px">μ</text>
<text x="212.40" y="190.90" text-anchor="start" style="font-family:'Liberation Sans',sans-serif;font-weight:bold;font-size:13px" stroke="#000" stroke-width="0.25">=</text>
<path transform="translate(223.50,189.50) scale(0.01230)" d="M393,0H254V-524C203,-476 143,-441 74,-418V-544C110,-556 150,-578 193,-612C236,-646 265,-685 281,-730H393Z" stroke="#000" stroke-width="20.3"/><text x="230.34" y="189.50" text-anchor="start" style="font-family:'Liberation Sans',sans-serif;font-weight:bold;font-size:12.3px" stroke="#000" stroke-width="0.25">0</text>
<text x="236.80" y="183.50" text-anchor="start" style="font-family:'Liberation Sans',sans-serif;font-weight:bold;font-size:9.9px" stroke="#000" stroke-width="0.25">-6</text>
<text transform="translate(244.10,189.60) scale(1.22,1)" style="font-family:'Liberation Serif',serif;font-weight:normal;font-size:12.1px">μ</text>
<text x="252.40" y="195.60" text-anchor="start" style="font-family:'Liberation Sans',sans-serif;font-weight:bold;font-size:9.4px" stroke="#000" stroke-width="0.25">B</text>
<text x="262.00" y="189.00" text-anchor="start" style="font-family:'Liberation Sans',sans-serif;font-weight:bold;font-size:12.5px" stroke="#000" stroke-width="0.25">)</text>
</g>
</svg>
</body></html>
